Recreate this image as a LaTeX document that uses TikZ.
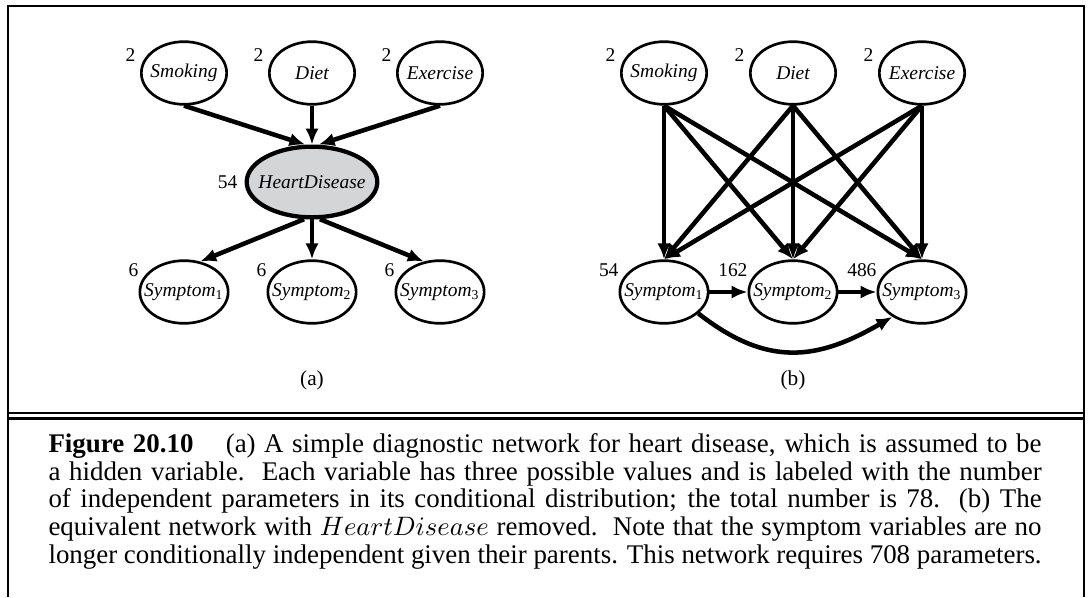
\documentclass[tikz,border=0pt]{standalone}
\usepackage{fontspec}
\setmainfont{Liberation Serif}
\usetikzlibrary{arrows.meta, positioning, calc, shapes.geometric}
\definecolor{hdgray}{RGB}{212, 213, 215}

\begin{document}
\begin{tikzpicture}[
        x=0.375pt, y=0.375pt,
        var/.style={
            ellipse,
            draw=black,
            line width=1pt,
            minimum width=32pt,
            minimum height=23.5pt,
            inner xsep=-3.2pt,
            inner ysep=0pt,
            font=\fontsize{7.3pt}{8pt}\selectfont\itshape
        },
        hidden/.style={
            var,
            fill=hdgray,
            line width=1.6pt,
            minimum width=49pt,
            minimum height=26.5pt
        },
        num/.style={
            anchor=east,
            inner sep=0pt,
            font=\fontsize{7.3pt}{8pt}\selectfont
        },
        panel/.style={font=\fontsize{8pt}{9pt}\selectfont},
        flecha/.style={-{Latex[length=6pt, width=5pt]}, line width=1.7pt},
        marco/.style={line width=1pt}
    ]
        \useasboundingbox (0,0) rectangle (1089,-597);

        % marco y doble raya
        \draw[marco] (8,-597) -- (8,-6) -- (1084,-6) -- (1084,-597);
        \draw[line width=0.9pt] (8,-413) -- (1084,-413);
        \draw[line width=0.9pt] (8,-418.5) -- (1084,-418.5);

        % (a)
        \node[var] (smokA) at (184,-73) {Smoking};
        \node[var] (dietA) at (312,-73) {Diet};
        \node[var] (exerA) at (440,-73) {Exercise};
        \node[hidden] (heart) at (312,-182) {HeartDisease};
        \node[var] (symA1) at (184,-292) {Symptom\textsubscript{\upshape 1}};
        \node[var] (symA2) at (312,-292) {Symptom\textsubscript{\upshape 2}};
        \node[var] (symA3) at (440,-292) {Symptom\textsubscript{\upshape 3}};

        \node[num] (nSmokA) at ([shift={(-48,18)}]smokA.center) {2};
        \node[num] (nDietA) at ([shift={(-48,18)}]dietA.center) {2};
        \node[num] (nExerA) at ([shift={(-48,18)}]exerA.center) {2};
        \node[num, left=2.5pt of heart.west, anchor=east] (nHeart) {54};
        \node[num] (nSymA1) at ([shift={(-45,22)}]symA1.center) {6};
        \node[num] (nSymA2) at ([shift={(-45,22)}]symA2.center) {6};
        \node[num] (nSymA3) at ([shift={(-45,22)}]symA3.center) {6};

        \draw[flecha] (smokA.south) -- (heart.100);
        \draw[flecha] (dietA.south) -- (heart.north);
        \draw[flecha] (exerA.south) -- (heart.80);
        \draw[flecha] (heart.258) -- (symA1.62);
        \draw[flecha] (heart.south) -- (symA2.north);
        \draw[flecha] (heart.282) -- (symA3.118);

        \node[panel] (tagA) at (312,-380) {(a)};

        % (b)
        \node[var] (smokB) at (664,-73) {Smoking};
        \node[var] (dietB) at (793,-73) {Diet};
        \node[var] (exerB) at (922,-73) {Exercise};
        \node[var] (symB1) at (664,-292) {Symptom\textsubscript{\upshape 1}};
        \node[var] (symB2) at (793,-292) {Symptom\textsubscript{\upshape 2}};
        \node[var] (symB3) at (922,-292) {Symptom\textsubscript{\upshape 3}};

        \node[num] (nSmokB) at ([shift={(-48,18)}]smokB.center) {2};
        \node[num] (nDietB) at ([shift={(-48,18)}]dietB.center) {2};
        \node[num] (nExerB) at ([shift={(-48,18)}]exerB.center) {2};
        \node[num] (nSymB1) at ([shift={(-45,22)}]symB1.center) {54};
        \node[num] (nSymB2) at ([shift={(-45,22)}]symB2.center) {162};
        \node[num] (nSymB3) at ([shift={(-45,22)}]symB3.center) {486};

        \foreach \p in {smokB, dietB, exerB}
            \foreach \s in {symB1, symB2, symB3}
                \draw[flecha] (\p.south) -- (\s.north);
        \draw[flecha] (symB1.east) -- (symB2.west);
        \draw[flecha] (symB2.east) -- (symB3.west);
        \draw[flecha] (symB1.-32) to[out=-38, in=-150, looseness=1.15] (symB3.-140);

        \node[panel] (tagB) at (793,-380) {(b)};

        % pie de figura
        \node[anchor=north west, inner sep=0pt, text width=372.4pt, align=justify,
              font=\fontsize{10.1pt}{10.4pt}\selectfont] (pie) at (48,-433) {%
            \textbf{Figure 20.10}\hspace{1.2em}(a) A simple diagnostic network for heart disease, which is assumed to be\linebreak
            a hidden variable.\ \ Each variable has three possible values and is labeled with the number\linebreak
            of independent parameters in its conditional distribution; the total number is 78.\ \ (b) The\linebreak
            equivalent network with $HeartDisease$ removed.\ \ Note that the symptom variables are no\linebreak
            longer conditionally independent given their parents. This network requires 708 parameters.};
    \end{tikzpicture}
\end{document}
